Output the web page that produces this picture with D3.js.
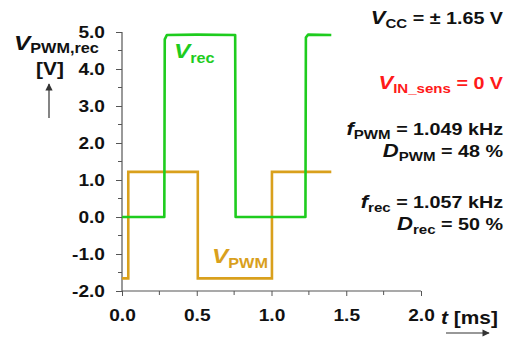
<!DOCTYPE html>
<html>
<head>
<meta charset="utf-8">
<script src="https://cdn.jsdelivr.net/npm/d3@7"></script>
<style>
  html, body { margin: 0; padding: 0; background: #fff; }
  svg { display: block; font-family: "Liberation Sans", Arial, sans-serif; font-weight: bold; }
</style>
</head>
<body>
<svg id="chart" width="515" height="337"></svg>
<script>
// Oscilloscope traces: time in ms, voltage in V
const pwmTime  = [0.0, 0.042, 0.042, 0.507, 0.507, 1.003, 1.003, 1.40];
const pwmVolt  = [-1.66, -1.66, 1.22, 1.22, -1.66, -1.66, 1.22, 1.22];
const recTime  = [0.0, 0.283, 0.286, 0.30, 0.50, 0.757, 0.760, 1.227, 1.230, 1.245, 1.40];
const recVolt  = [0.0, 0.0, 4.80, 4.92, 4.93, 4.92, 0.0, 0.0, 4.85, 4.93, 4.92];

const xTicks = [0.0, 0.5, 1.0, 1.5, 2.0];
const xMinor = [0.25, 0.75, 1.25, 1.75];
const yTicks = [-2.0, -1.0, 0.0, 1.0, 2.0, 3.0, 4.0, 5.0];
const yMinor = [-1.5, -0.5, 0.5, 1.5, 2.5, 3.5, 4.5];

const colPWM = "#d9a01c";
const colRec = "#1ecc1e";
const axisCol = "#555";
const SX = 1.16;          // wide lettering
const fmt = d => d.toFixed(1);   // plain hyphen for negatives

const svg = d3.select("#chart");
const x = d3.scaleLinear().domain([0, 2]).range([122, 421]);
const y = d3.scaleLinear().domain([-2, 5]).range([291, 32]);

// axes
const xAxis = d3.axisBottom(x).tickValues(xTicks).tickSize(5).tickFormat(fmt);
const gx = svg.append("g").attr("transform", "translate(0,291)").call(xAxis);
gx.append("g").selectAll("line").data(xMinor).join("line")
  .attr("x1", d => x(d)).attr("x2", d => x(d)).attr("y1", 0).attr("y2", 4)
  .attr("stroke", axisCol);

const yAxis = d3.axisLeft(y).tickValues(yTicks).tickSize(6).tickFormat(fmt);
const gy = svg.append("g").attr("transform", "translate(122,0)").call(yAxis);
gy.append("g").selectAll("line").data(yMinor).join("line")
  .attr("x1", -4).attr("x2", 0).attr("y1", d => y(d)).attr("y2", d => y(d))
  .attr("stroke", axisCol);

[gx, gy].forEach(g => {
  g.select(".domain").attr("stroke", axisCol).attr("stroke-width", 1.2);
  g.selectAll(".tick line").attr("stroke", axisCol);
  g.selectAll(".tick text").attr("fill", "#111").attr("font-size", 16.5)
    .attr("font-family", "'Liberation Sans', Arial, sans-serif").attr("font-weight", "bold")
    .attr("transform", `scale(${SX},1)`);
});
gx.selectAll(".tick text").attr("y", 0).attr("dy", 30);
gy.selectAll(".tick text").attr("x", -17 / SX).attr("dy", "0.36em");
gx.select(".domain").attr("d", "M122,0H421");
gy.select(".domain").attr("d", "M0,32V291");

// traces
const line = d3.line().x(d => x(d[0])).y(d => y(d[1]));
const pwmData = pwmTime.map((t, i) => [t, pwmVolt[i]]);
const recData = recTime.map((t, i) => [t, recVolt[i]]);

svg.append("path").datum(pwmData).attr("d", line)
  .attr("fill", "none").attr("stroke", colPWM).attr("stroke-width", 2.6);
svg.append("path").datum(recData).attr("d", line)
  .attr("fill", "none").attr("stroke", colRec).attr("stroke-width", 2.6)
  .attr("stroke-linejoin", "round");

// text helper: italic symbol + subscript + rest, stretched horizontally
function label(xp, yp, main, sub, rest, o) {
  const t = svg.append("text")
    .attr("transform", `translate(${xp},${yp}) scale(${SX},1)`)
    .attr("fill", o.fill || "#111").attr("font-size", o.size || 17)
    .attr("text-anchor", o.anchor || "start");
  t.append("tspan").attr("font-style", "italic").attr("font-size", o.mainSize || 19).text(main);
  t.append("tspan").attr("font-size", o.subSize || 13).attr("dy", o.subDy).text(sub);
  if (rest) t.append("tspan").attr("dy", -o.subDy).text(rest);
  return t;
}

// trace labels
label(174, 58, "V", "rec", null, {fill: colRec, mainSize: 21, subSize: 14, subDy: 5});
label(212, 263, "V", "PWM", null, {fill: colPWM, mainSize: 21, subSize: 14, subDy: 5});

// y axis title
label(14, 50, "V", "PWM,rec", null, {mainSize: 21, subSize: 14, subDy: 3});
svg.append("text").attr("transform", `translate(50,75) scale(${SX},1)`).attr("text-anchor", "middle")
  .attr("font-size", 18).attr("fill", "#111").text("[V]");

// x axis title
const tl = svg.append("text").attr("transform", `translate(441,324) scale(${SX},1)`)
  .attr("font-size", 18).attr("fill", "#111");
tl.append("tspan").attr("font-style", "italic").text("t");
tl.append("tspan").text(" [ms]");

// direction arrows
const defs = svg.append("defs");
defs.append("marker").attr("id", "arr").attr("viewBox", "0 0 10 10")
  .attr("refX", 9).attr("refY", 5).attr("markerWidth", 8).attr("markerHeight", 6)
  .attr("orient", "auto").append("path").attr("d", "M0,0L10,5L0,10Z").attr("fill", "#333");
svg.append("line").attr("x1", 49).attr("y1", 118).attr("x2", 49).attr("y2", 84)
  .attr("stroke", "#333").attr("stroke-width", 1.2).attr("marker-end", "url(#arr)");
svg.append("line").attr("x1", 446).attr("y1", 333).attr("x2", 489).attr("y2", 333)
  .attr("stroke", "#333").attr("stroke-width", 1.2).attr("marker-end", "url(#arr)");

// measurement annotations (right aligned)
const notes = [
  [24, "V", "CC", " = \u00B1 1.65 V", "#111"],
  [89, "V", "IN_sens", " = 0 V", "#ff1a1a"],
  [135, "f", "PWM", " = 1.049 kHz", "#111"],
  [157, "D", "PWM", " = 48 %", "#111"],
  [208, "f", "rec", " = 1.057 kHz", "#111"],
  [230, "D", "rec", " = 50 %", "#111"]
];
notes.forEach(([yp, m, s, r, c]) =>
  label(503, yp, m, s, r, {fill: c, anchor: "end", size: 17, mainSize: 19, subSize: 13, subDy: 4}));
</script>
</body>
</html>
